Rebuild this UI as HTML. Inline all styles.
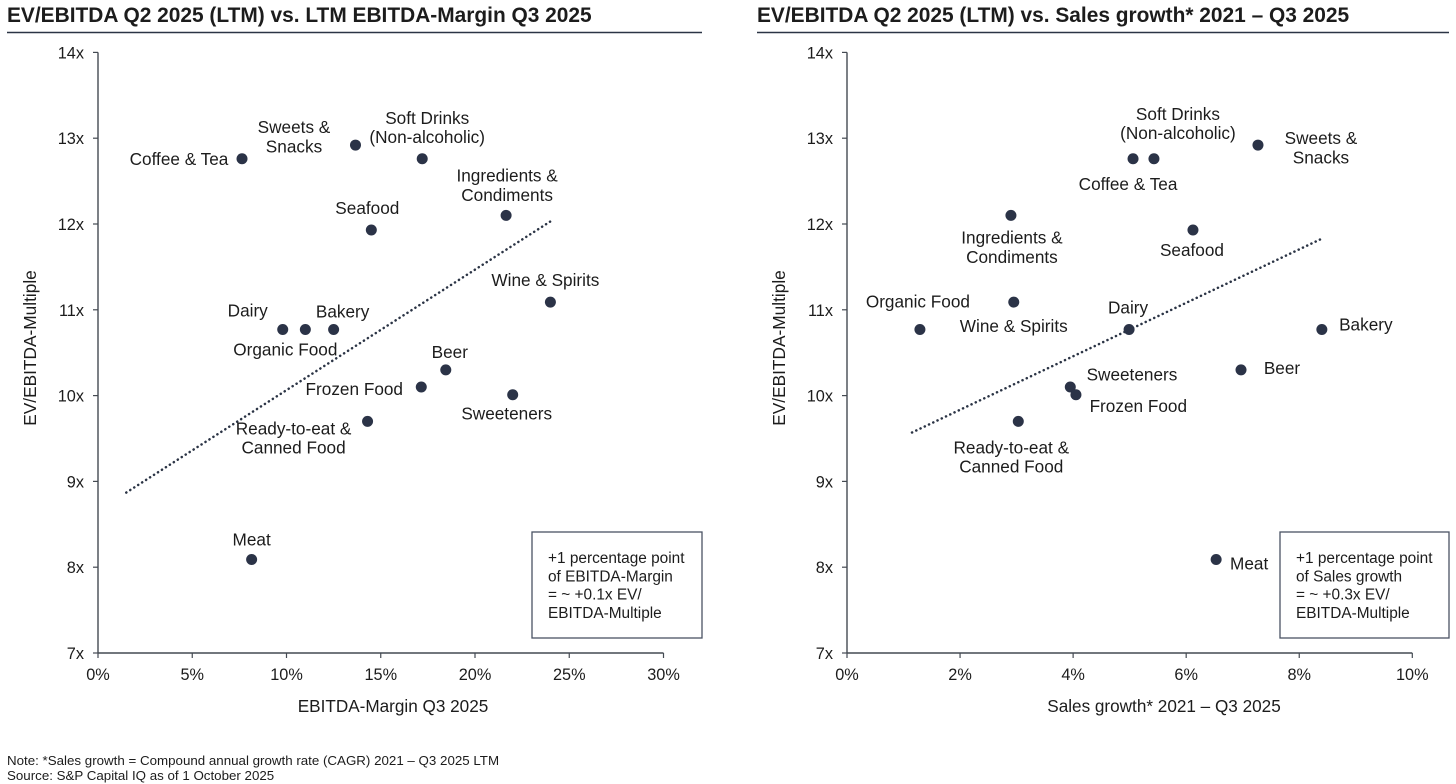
<!DOCTYPE html>
<html lang="en">
<head>
<meta charset="utf-8">
<title>EV/EBITDA scatter charts</title>
<style>
html,body{margin:0;padding:0;background:#fff;width:1456px;height:784px;overflow:hidden}
svg{display:block;font-family:"Liberation Sans",Arial,sans-serif}
text{fill:#1c1c1c}
</style>
</head>
<body>
<svg id="canvas" width="1456" height="784" viewBox="0 0 1456 784" xmlns="http://www.w3.org/2000/svg">
  <text x="7" y="22" font-size="20.9" font-weight="bold">EV/EBITDA Q2 2025 (LTM) vs. LTM EBITDA-Margin Q3 2025</text>
  <line x1="7" y1="32.5" x2="702" y2="32.5" stroke="#2b3445" stroke-width="1.5"/>
  <text x="757" y="22" font-size="20.9" font-weight="bold">EV/EBITDA Q2 2025 (LTM) vs. Sales growth* 2021 – Q3 2025</text>
  <line x1="757" y1="32.5" x2="1449" y2="32.5" stroke="#2b3445" stroke-width="1.5"/>
  <g id="left-chart"></g>
  <g id="right-chart"></g>
  <g>
    <rect x="532" y="532" width="170" height="106" fill="#fff" stroke="#4a5364" stroke-width="1.3"/>
    <text font-size="15.4">
      <tspan x="548" y="563">+1 percentage point</tspan>
      <tspan x="548" y="581.3">of EBITDA-Margin</tspan>
      <tspan x="548" y="599.6">= ~ +0.1x EV/</tspan>
      <tspan x="548" y="617.9">EBITDA-Multiple</tspan>
    </text>
  </g>
  <g>
    <rect x="1280" y="532" width="169" height="106" fill="#fff" stroke="#4a5364" stroke-width="1.3"/>
    <text font-size="15.4">
      <tspan x="1296" y="563">+1 percentage point</tspan>
      <tspan x="1296" y="581.3">of Sales growth</tspan>
      <tspan x="1296" y="599.6">= ~ +0.3x EV/</tspan>
      <tspan x="1296" y="617.9">EBITDA-Multiple</tspan>
    </text>
  </g>
  <text x="7" y="765" font-size="13.33">Note: *Sales growth = Compound annual growth rate (CAGR) 2021 – Q3 2025 LTM</text>
  <text x="7" y="780" font-size="13.33">Source: S&amp;P Capital IQ as of 1 October 2025</text>
</svg>
<script>
// Shared values
const categories = ["Coffee & Tea","Sweets & Snacks","Soft Drinks (Non-alcoholic)","Ingredients & Condiments","Seafood","Wine & Spirits","Dairy","Organic Food","Bakery","Beer","Frozen Food","Sweeteners","Ready-to-eat & Canned Food","Meat"];
const evEbitdaMultiple = [12.76,12.92,12.76,12.10,11.93,11.09,10.77,10.77,10.77,10.30,10.10,10.01,9.70,8.09];
const ebitdaMargin = [7.64,13.66,17.2,21.65,14.5,24.0,9.8,11.0,12.5,18.45,17.15,22.0,14.3,8.15];
const salesGrowth = [5.06,7.27,5.43,2.9,6.12,2.95,4.99,1.29,8.4,6.97,3.95,4.05,3.03,6.53];
const yTickValues = [7,8,9,10,11,12,13,14];
const leftXTickValues = [0,5,10,15,20,25,30];
const rightXTickValues = [0,2,4,6,8,10];
const leftTrendX = [1.5,24.0];
const leftTrendY = [8.87,12.03];
const rightTrendX = [1.15,8.37];
const rightTrendY = [9.57,11.82];

// Label line breaks and placement relative to each marker (layout, not data)
const labelLines = [["Coffee & Tea"],["Sweets &","Snacks"],["Soft Drinks","(Non-alcoholic)"],["Ingredients &","Condiments"],["Seafood"],["Wine & Spirits"],["Dairy"],["Organic Food"],["Bakery"],["Beer"],["Frozen Food"],["Sweeteners"],["Ready-to-eat &","Canned Food"],["Meat"]];
const leftLabelOffsets = [[-63,6],[-61.5,-12],[5,-35],[1,-34],[-4,-16],[-5,-16],[-35,-13],[-20,26],[9,-12],[4,-12],[-67,8],[-6,25],[-74,13],[0,-14]];
const rightLabelOffsets = [[-5,31],[63,-1],[24,-39],[1,28],[-1,26],[0,30],[-1,-16],[-2,-22],[44,1],[41,4],[68,25],[56,-14],[-7,32],[33,10]];

const NS = "http://www.w3.org/2000/svg";
const yScale = v => 653 - (v - 7) * 85.8;

function make(parent, tag, attrs, text) {
  const el = document.createElementNS(NS, tag);
  for (const k in attrs) el.setAttribute(k, attrs[k]);
  if (text !== undefined) el.textContent = text;
  parent.appendChild(el);
  return el;
}
function slug(s) {
  return s.toLowerCase().replace(/[^a-z0-9]+/g, "-").replace(/^-|-$/g, "");
}

function drawChart(cfg) {
  const g = document.getElementById(cfg.id);
  const xScale = v => cfg.x0 + (v - cfg.xMin) * cfg.pxPerUnit;
  const axisColor = "#444a52";

  const yAxis = make(g, "line", {x1: cfg.x0, y1: yScale(14), x2: cfg.x0, y2: yScale(7), stroke: axisColor, "stroke-width": 1.4});
  
  
  const xAxis = make(g, "line", {x1: cfg.x0, y1: yScale(7), x2: xScale(cfg.xTicks[cfg.xTicks.length - 1]), y2: yScale(7), stroke: axisColor, "stroke-width": 1.4});
  
  

  yTickValues.forEach(v => {
    const tick = make(g, "line", {x1: cfg.x0 - 5, y1: yScale(v), x2: cfg.x0, y2: yScale(v), stroke: axisColor, "stroke-width": 1.2});
    
    
    const label = make(g, "text", {x: cfg.x0 - 14, y: yScale(v) + 6, "text-anchor": "end", "font-size": 16.3}, v + "x");
    
    
  });
  cfg.xTicks.forEach(v => {
    const tick = make(g, "line", {x1: xScale(v), y1: yScale(7), x2: xScale(v), y2: yScale(7) + 5, stroke: axisColor, "stroke-width": 1.2});
    
    
    const label = make(g, "text", {x: xScale(v), y: 680, "text-anchor": "middle", "font-size": 16.3}, v + "%");
    
    
  });

  const xTitle = make(g, "text", {x: cfg.xTitleX, y: 712, "text-anchor": "middle", "font-size": 17.15}, cfg.xTitle);
  
  
  const yTitle = make(g, "text", {x: 0, y: 0, "text-anchor": "middle", "font-size": 17.3, transform: "translate(" + cfg.yTitleX + ",348) rotate(-90)"}, "EV/EBITDA-Multiple");
  
  

  const trend = make(g, "line", {x1: xScale(cfg.trendX[0]), y1: yScale(cfg.trendY[0]), x2: xScale(cfg.trendX[1]), y2: yScale(cfg.trendY[1]), stroke: "#2b3445", "stroke-width": 2.5, "stroke-linecap": "round", "stroke-dasharray": "0.1 4.6"});
  
  

  categories.forEach((name, i) => {
    const cx = xScale(cfg.values[i]);
    const cy = yScale(evEbitdaMultiple[i]);
    const point = make(g, "circle", {cx: cx, cy: cy, r: 5.5, fill: "#2b3347"});
    
    
    const label = make(g, "text", {"text-anchor": "middle", "font-size": 17.2});
    
    
    labelLines[i].forEach((line, j) => {
      make(label, "tspan", {x: cx + cfg.offsets[i][0], y: cy + cfg.offsets[i][1] + j * 19.4}, line);
    });
  });
}

drawChart({id: "left-chart", x0: 98, xMin: 0, pxPerUnit: 18.85, xTicks: leftXTickValues, values: ebitdaMargin, trendX: leftTrendX, trendY: leftTrendY, offsets: leftLabelOffsets, xTitle: "EBITDA-Margin Q3 2025", xTitleX: 393, yTitleX: 36});
drawChart({id: "right-chart", x0: 847, xMin: 0, pxPerUnit: 56.53, xTicks: rightXTickValues, values: salesGrowth, trendX: rightTrendX, trendY: rightTrendY, offsets: rightLabelOffsets, xTitle: "Sales growth* 2021 – Q3 2025", xTitleX: 1164, yTitleX: 785});
</script>
</body>
</html>
